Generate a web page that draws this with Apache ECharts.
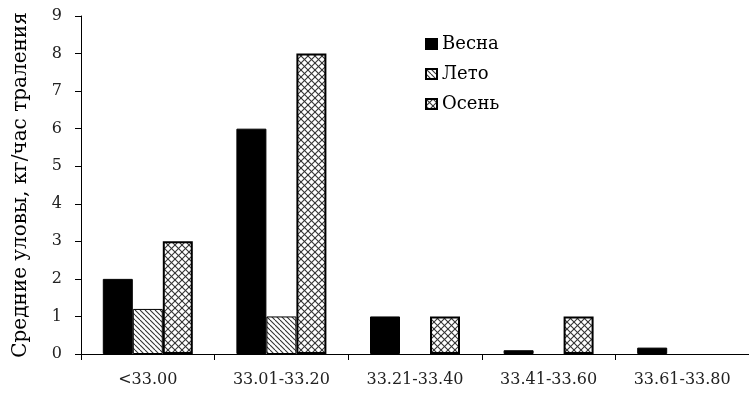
<!DOCTYPE html>
<html><head><meta charset="utf-8">
<script src="https://cdn.jsdelivr.net/npm/echarts@6/dist/echarts.min.js"></script>
<style>html,body{margin:0;padding:0;background:#fff}#c{width:749px;height:394px}</style>
</head><body><div id="c"></div>
<script>
const categories = ['<33.00', '33.01-33.20', '33.21-33.40', '33.41-33.60', '33.61-33.80'];
const seriesNames = ['Весна', 'Лето', 'Осень'];
const vesna = [2, 6, 1, 0.1, 0.17];
const leto = [1.2, 1, 0, 0, 0];
const osen = [3, 8, 1, 1, 0];
const yTicks = [0, 1, 2, 3, 4, 5, 6, 7, 8, 9];
const yName = 'Средние уловы, кг/час траления';

function pattern(kind) {
  const s = kind === 'diag' ? 5 : 7;
  const c = document.createElement('canvas');
  c.width = s; c.height = s;
  const g = c.getContext('2d');
  g.fillStyle = '#fff'; g.fillRect(0, 0, s, s);
  g.strokeStyle = '#333'; g.lineWidth = 1.1;
  const back = () => { for (const o of [-s, 0, s]) { g.beginPath(); g.moveTo(o, 0); g.lineTo(o + s, s); g.stroke(); } };
  const fwd = () => { for (const o of [-s, 0, s]) { g.beginPath(); g.moveTo(o, s); g.lineTo(o + s, 0); g.stroke(); } };
  back();
  if (kind === 'cross') fwd();
  return { image: c, repeat: 'repeat' };
}
const noZero = arr => arr.map(v => (v === 0 ? null : v));

const font = 'DejaVu Serif';
const chart = echarts.init(document.getElementById('c'));
chart.setOption({
  animation: false,
  grid: { left: 81, right: -13, top: 16, bottom: 40, containLabel: false },
  legend: {
    orient: 'vertical', left: 420, top: 30, itemWidth: 11, itemHeight: 10, itemGap: 12,
    icon: 'rect',
    textStyle: { fontFamily: font, fontSize: 18, color: '#000' },
    data: seriesNames
  },
  xAxis: {
    type: 'category', data: categories,
    axisLine: { lineStyle: { color: '#000', width: 1 } },
    axisTick: { show: true, length: 6, lineStyle: { color: '#000' } },
    axisLabel: { fontFamily: font, fontSize: 16, color: '#222', margin: 18, interval: 0 }
  },
  yAxis: {
    type: 'value', min: 0, max: 9, interval: 1,
    name: yName, nameLocation: 'middle', nameGap: 50, nameRotate: 90,
    nameTextStyle: { fontFamily: font, fontSize: 20, color: '#000' },
    axisLine: { show: true, lineStyle: { color: '#000', width: 1 } },
    axisTick: { show: true, length: 6, lineStyle: { color: '#000' } },
    splitLine: { show: false },
    axisLabel: { fontFamily: font, fontSize: 16, color: '#222', margin: 19,
      formatter: v => yTicks.includes(v) ? String(v) : '' }
  },
  series: [
    { name: seriesNames[0], type: 'bar', data: noZero(vesna), barGap: '0%', barWidth: 30,
      itemStyle: { color: '#000', borderColor: '#000', borderWidth: 1 } },
    { name: seriesNames[1], type: 'bar', data: noZero(leto), barWidth: 30,
      itemStyle: { color: pattern('diag'), borderColor: '#000', borderWidth: 1 } },
    { name: seriesNames[2], type: 'bar', data: noZero(osen), barWidth: 30,
      itemStyle: { color: pattern('cross'), borderColor: '#000', borderWidth: 2 } }
  ]
});
</script></body></html>
